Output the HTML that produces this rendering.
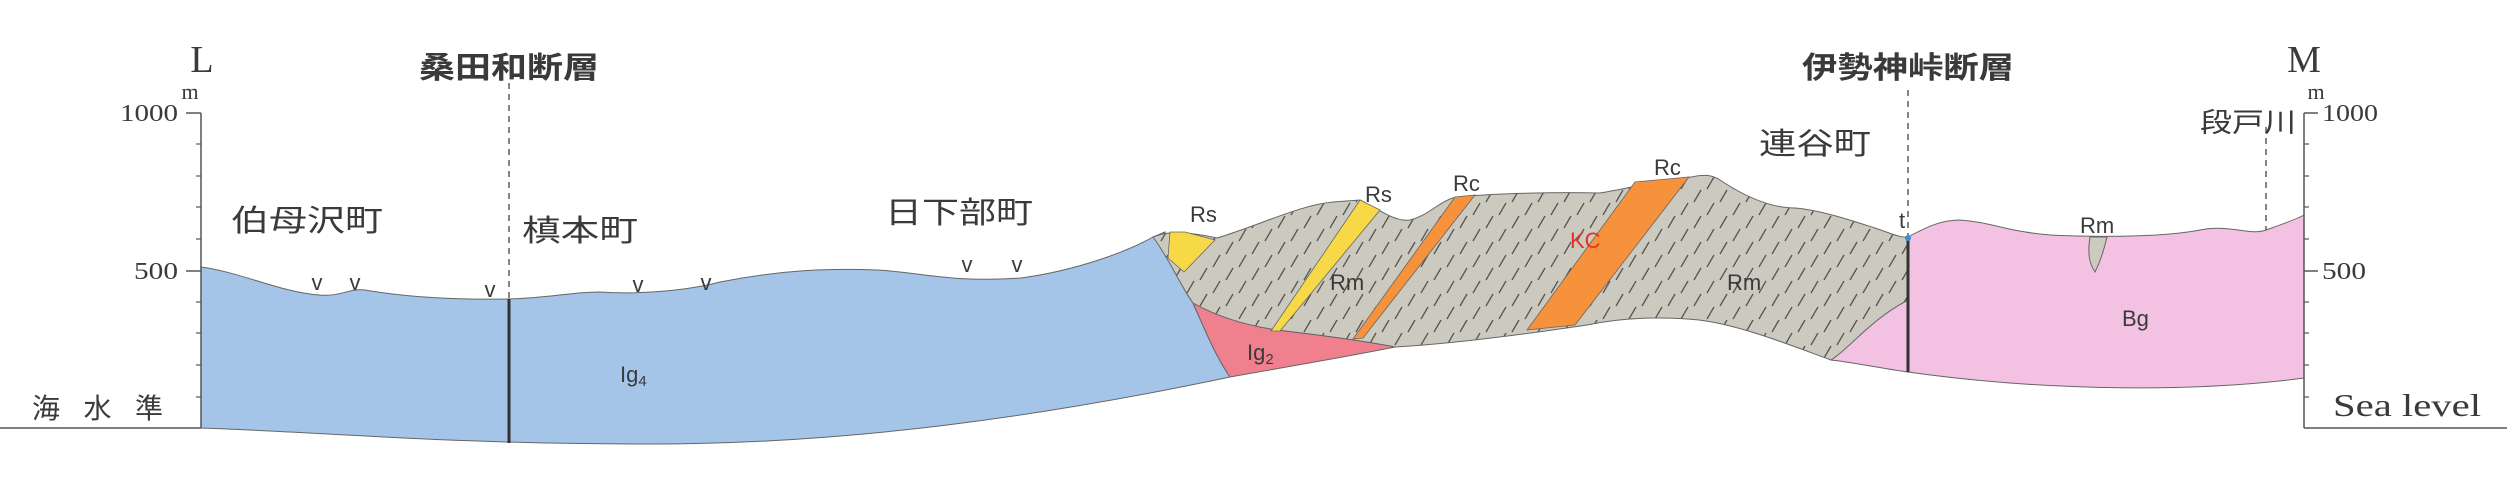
<!DOCTYPE html>
<html><head><meta charset="utf-8"><style>
html,body{margin:0;padding:0;background:#fff}
svg{display:block}
.j{font-family:"Liberation Sans","Noto Sans CJK JP",sans-serif;fill:#3a3a3a}
.s{font-family:"Liberation Serif",serif;fill:#3a3a3a}
.l{font-family:"Liberation Sans",sans-serif;fill:#3a3a3a;font-size:22px}
</style></head><body>
<svg width="2507" height="477" viewBox="0 0 2507 477" xmlns="http://www.w3.org/2000/svg">
<defs>
<pattern id="h" width="26" height="26" patternUnits="userSpaceOnUse">
<rect width="26" height="26" fill="#ccc9bf"/>
<line x1="4" y1="20" x2="11" y2="8" stroke="#555" stroke-width="1.3"/>
<line x1="17" y1="33" x2="24" y2="21" stroke="#555" stroke-width="1.3"/>
<line x1="17" y1="7" x2="24" y2="-5" stroke="#555" stroke-width="1.3"/>
</pattern>
</defs>
<!-- blue -->
<path d="M201,267 C240,272 280,292 319,295 C340,297 350,288 365,290 C400,296 450,300 509,299 C550,298 570,292 600,292 C640,295 690,290 720,282 C780,270 830,268 877,270 C920,272 950,283 1021,278 C1080,270 1130,250 1153,237 L1165,232 C1170,260 1180,285 1193,303 C1205,330 1215,355 1230,377 C1050,415 850,445 640,444 C450,444 320,432 201,428 Z" fill="#a4c4e8" stroke="#666" stroke-width="1"/>
<!-- red -->
<path d="M1193,303 C1220,318 1250,326 1277,330 C1320,335 1360,340 1395,347 C1340,358 1280,368 1230,377 C1215,355 1205,330 1193,303 Z" fill="#f0808e" stroke="#666" stroke-width="1"/>
<!-- pink -->
<path d="M1908,237 C1925,228 1940,220 1960,220 C1990,222 2010,232 2050,235 C2110,238 2170,236 2200,230 C2230,224 2250,236 2266,230 C2280,225 2295,220 2304,215 L2304,378 C2200,392 2050,392 1908,372 C1880,368 1850,362 1831,360 C1850,348 1870,320 1908,300 Z" fill="#f3c2e2" stroke="#666" stroke-width="1"/>
<!-- gray -->
<path d="M1153,237 C1165,232 1180,230 1217,238 C1260,225 1300,205 1333,202 L1360,200 C1380,210 1395,222 1410,220 C1430,215 1440,200 1457,197 C1500,193 1560,192 1600,193 C1630,188 1660,180 1691,177 C1705,174 1712,175 1720,180 C1750,200 1775,208 1795,208 C1820,210 1850,220 1875,228 C1890,233 1900,238 1908,237 L1908,300 C1870,320 1850,348 1831,360 C1790,345 1740,325 1699,320 C1660,316 1620,318 1587,325 C1520,335 1450,344 1395,347 C1360,340 1320,335 1277,330 C1250,326 1220,318 1193,303 C1180,285 1170,260 1153,237 Z" fill="url(#h)" stroke="#666" stroke-width="1"/>
<!-- yellow Rs -->
<path d="M1170,232 L1185,232 L1215,240 L1184,272 L1168,258 Z" fill="#f7d948" stroke="#666" stroke-width="0.8"/>
<path d="M1360,200 L1380,210 L1280,331 L1271,331 Z" fill="#f7d948" stroke="#666" stroke-width="0.8"/>
<!-- orange Rc -->
<path d="M1455,197 L1475,195 L1363,338 L1353,339 Z" fill="#f7923c" stroke="#666" stroke-width="0.8"/>
<path d="M1635,182 L1689,177 L1575,325 L1527,330 Z" fill="#f7923c" stroke="#666" stroke-width="0.8"/>
<!-- lens -->
<path d="M2090,237 L2107,237 C2104,250 2100,262 2095,272 C2088,262 2088,250 2090,237 Z" fill="#ccc9bf" stroke="#666" stroke-width="1"/>
<!-- v marks -->
<g class="l" font-size="18" text-anchor="middle">
<text x="317" y="290">v</text><text x="355" y="290">v</text><text x="490" y="297">v</text>
<text x="638" y="292">v</text><text x="706" y="290">v</text><text x="967" y="272">v</text><text x="1017" y="272">v</text>
</g>
<!-- faults -->
<line x1="509" y1="83" x2="509" y2="299" stroke="#444" stroke-width="1.3" stroke-dasharray="6,5"/>
<line x1="509" y1="299" x2="509" y2="443" stroke="#333" stroke-width="3"/>
<line x1="1908" y1="90" x2="1908" y2="235" stroke="#444" stroke-width="1.3" stroke-dasharray="6,5"/>
<line x1="1908" y1="238" x2="1908" y2="372" stroke="#333" stroke-width="3"/>
<circle cx="1908" cy="238" r="3" fill="#3a8fd0"/>
<line x1="2266" y1="127" x2="2266" y2="230" stroke="#444" stroke-width="1.3" stroke-dasharray="6,5"/>
<!-- axes -->
<g stroke="#555" stroke-width="1.5">
<line x1="201" y1="113" x2="201" y2="428"/><line x1="0" y1="428" x2="201" y2="428"/>
<line x1="186" y1="113" x2="201" y2="113"/><line x1="186" y1="271" x2="201" y2="271"/>
<line x1="2304" y1="113" x2="2304" y2="428"/><line x1="2304" y1="428" x2="2507" y2="428"/>
<line x1="2304" y1="113" x2="2318" y2="113"/><line x1="2304" y1="271" x2="2318" y2="271"/>
</g>
<g stroke="#555" stroke-width="1.2">
<line x1="196" y1="144" x2="201" y2="144"/><line x1="196" y1="176" x2="201" y2="176"/><line x1="196" y1="207" x2="201" y2="207"/><line x1="196" y1="239" x2="201" y2="239"/>
<line x1="196" y1="302" x2="201" y2="302"/><line x1="196" y1="333" x2="201" y2="333"/><line x1="196" y1="365" x2="201" y2="365"/><line x1="196" y1="397" x2="201" y2="397"/>
<line x1="2304" y1="144" x2="2309" y2="144"/><line x1="2304" y1="176" x2="2309" y2="176"/><line x1="2304" y1="207" x2="2309" y2="207"/><line x1="2304" y1="239" x2="2309" y2="239"/>
<line x1="2304" y1="302" x2="2309" y2="302"/><line x1="2304" y1="333" x2="2309" y2="333"/><line x1="2304" y1="365" x2="2309" y2="365"/><line x1="2304" y1="397" x2="2309" y2="397"/>
</g>
<!-- axis text -->
<text class="s" x="202" y="72" font-size="38" text-anchor="middle">L</text>
<text class="s" x="190" y="99" font-size="22" text-anchor="middle">m</text>
<text class="s" x="178" y="121" font-size="24" text-anchor="end" textLength="58" lengthAdjust="spacingAndGlyphs">1000</text>
<text class="s" x="178" y="279" font-size="24" text-anchor="end" textLength="44" lengthAdjust="spacingAndGlyphs">500</text>
<text class="j" x="32" y="418" font-size="28" textLength="131" lengthAdjust="spacing">海水準</text>
<text class="s" x="2304" y="72" font-size="38" text-anchor="middle">M</text>
<text class="s" x="2316" y="99" font-size="22" text-anchor="middle">m</text>
<text class="s" x="2322" y="121" font-size="24" textLength="56" lengthAdjust="spacingAndGlyphs">1000</text>
<text class="s" x="2322" y="279" font-size="24" textLength="44" lengthAdjust="spacingAndGlyphs">500</text>
<text class="s" x="2333" y="416" font-size="32" textLength="148" lengthAdjust="spacingAndGlyphs">Sea level</text>
<!-- jp labels -->
<g class="j" font-size="30">
<text x="509" y="78" text-anchor="middle" font-weight="bold" textLength="180" lengthAdjust="spacingAndGlyphs">桑田和断層</text>
<text x="1908" y="78" text-anchor="middle" font-weight="bold" textLength="212" lengthAdjust="spacingAndGlyphs">伊勢神峠断層</text>
<text x="231" y="231" textLength="152" lengthAdjust="spacingAndGlyphs">伯母沢町</text>
<text x="522" y="241" textLength="116" lengthAdjust="spacingAndGlyphs">槙本町</text>
<text x="885" y="223" textLength="148" lengthAdjust="spacingAndGlyphs">日下部町</text>
<text x="1759" y="154" textLength="112" lengthAdjust="spacingAndGlyphs">連谷町</text>
<text x="2200" y="132" font-size="27" textLength="96" lengthAdjust="spacingAndGlyphs">段戸川</text>
</g>
<!-- unit labels -->
<g class="l">
<text x="1190" y="222">Rs</text>
<text x="1365" y="202">Rs</text>
<text x="1453" y="191">Rc</text>
<text x="1654" y="175">Rc</text>
<text x="1330" y="290">Rm</text>
<text x="1727" y="290">Rm</text>
<text x="2080" y="233">Rm</text>
<text x="2122" y="326">Bg</text>
<text x="1899" y="228">t</text>
<text x="1570" y="248" fill="#e8302a" style="fill:#e8302a">KC</text>
<text x="620" y="382">Ig<tspan font-size="15" dy="4">4</tspan></text>
<text x="1247" y="360">Ig<tspan font-size="15" dy="4">2</tspan></text>
</g>
</svg>
</body></html>
